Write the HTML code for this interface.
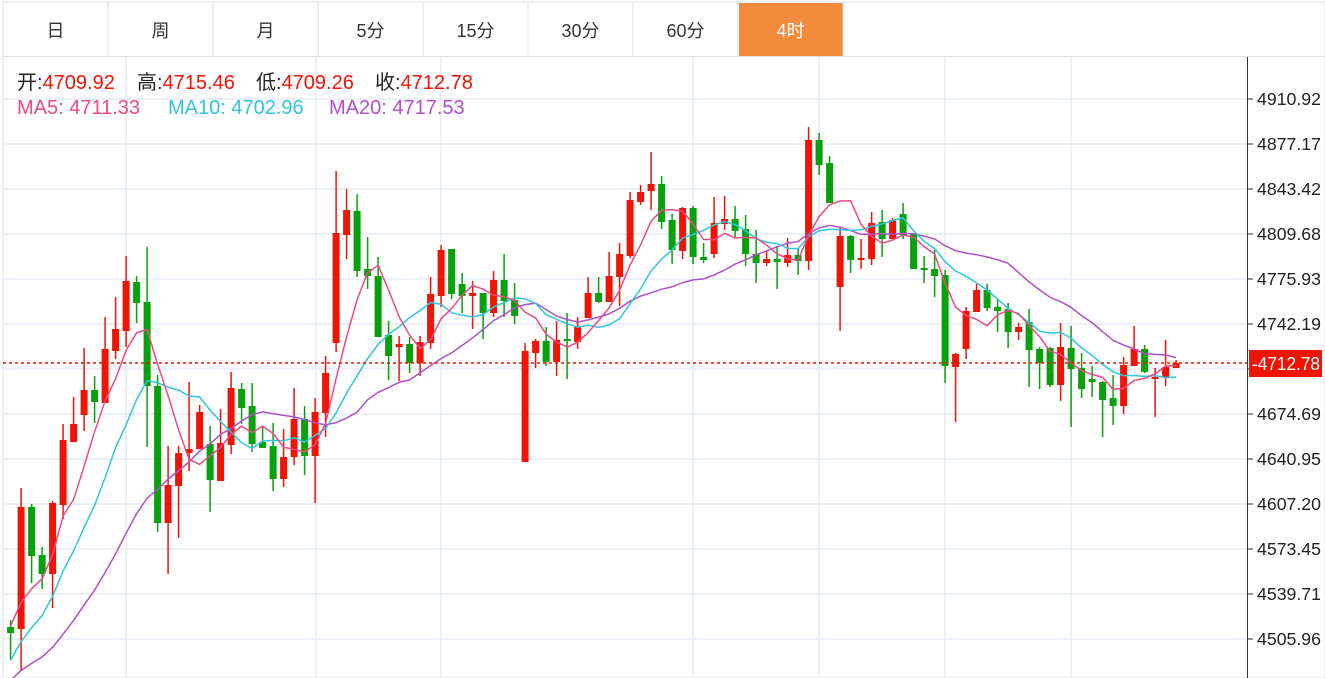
<!DOCTYPE html>
<html><head><meta charset="utf-8"><style>
body{margin:0;width:1325px;height:678px;overflow:hidden;background:#fff;font-family:"Liberation Sans","Noto Sans CJK SC",sans-serif;}
svg{position:absolute;left:0;top:0}
</style></head><body>
<svg id="s" width="1325" height="678" xmlns="http://www.w3.org/2000/svg" font-family="Liberation Sans, Noto Sans CJK SC, sans-serif"></svg>
<script>
var D=[
[627,633,620,660],[507,629,488,670,1],[507,556,504,583],[555,574,547,589],[503,574,501,608,1],[440,505,424,519,1],[424,442,397,442,1],[390,415,348,431,1],[390,402,376,423],[349,403,317,403,1],
[329,351,297,359,1],[281,331,256,347,1],[282,303,276,323],[302,386,247,447],[386,523,375,532],[485,523,446,574,1],[453,486,446,538,1],[449,453,382,471,1],[412,449,405,449,1],[444,480,426,512],
[443,481,409,481,1],[388,445,372,454,1],[389,408,383,424],[406,444,383,452],[442,448,426,448],[446,479,423,491],[457,479,429,487,1],[419,457,388,465,1],[419,456,406,475],[412,456,398,503,1],
[373,413,356,437,1],[233,343,171,352,1],[210,235,189,259,1],[211,271,194,277],[269,276,237,289],[276,337,257,337],[335,356,321,380],[344,347,336,381,1],[344,363,337,373],[342,363,336,376,1],
[294,343,277,349,1],[250,296,245,307,1],[249,294,249,299],[284,296,273,313],[293,296,281,329,1],[293,313,293,339],[280,313,271,317,1],[280,301,254,317],[300,316,283,324],[351,462,343,462,1],
[341,353,339,368,1],[341,362,327,366],[340,362,321,376,1],[339,341,313,379],[327,342,317,349,1],[293,318,277,318,1],[293,302,277,303],[276,302,252,302,1],[254,277,243,306,1],[200,256,192,258,1],
[192,202,185,205,1],[184,191,152,210,1],[184,222,176,229],[220,250,214,264],[208,251,207,259,1],[208,257,206,264],[257,260,243,263],[223,254,197,258,1],[219,224,196,230,1],[219,231,206,237],
[229,254,215,266],[254,263,230,283],[259,263,250,266,1],[259,262,246,289],[255,263,238,267,1],[255,261,248,275],[140,261,127,270,1],[140,165,133,175],[163,203,156,203],[236,287,227,331,1],
[236,260,235,273],[258,260,239,269,1],[223,259,212,265,1],[222,239,210,257],[220,239,218,239,1],[214,235,203,239],[233,269,233,269],[268,270,256,283],[269,276,250,297],[275,366,270,383],
[354,367,353,422,1],[311,349,307,359,1],[290,312,284,312,1],[290,308,284,311],[307,311,299,332],[309,332,303,348],[327,332,323,340,1],[322,350,309,387],[349,363,347,389],[348,385,347,387],
[347,385,323,401,1],[348,369,326,427],[368,389,353,398],[379,382,366,397],[382,400,381,437],[398,406,375,425],[365,406,357,414,1],[349,366,326,366,1],[349,372,345,373],[377,379,368,417,1],
[367,378,340,386,1],[363,368,360,368,1]];
var s=document.getElementById('s'),h='';
function X(i){return 10.6+i*10.5}
h+='<rect x="3" y="2" width="1322" height="676" fill="none" stroke="#dcdfe3"/>';
var tabs=['日','周','月','5分','15分','30分','60分','4时'];
for(var i=0;i<8;i++){var x=3+i*105;
 if(i==7)h+='<rect x="'+(x+1)+'" y="3" width="104" height="53" fill="#f28b3c"/>';
 h+='<line x1="'+(x+105)+'" y1="2" x2="'+(x+105)+'" y2="56" stroke="#dcdfe3"/>';
 h+='<text x="'+(x+52.5)+'" y="37" text-anchor="middle" font-size="18" fill="'+(i==7?'#fff':'#333')+'">'+tabs[i]+'</text>';}
h+='<line x1="3" y1="56.5" x2="1325" y2="56.5" stroke="#dcdfe3"/>';
[126,316,441,693,819,945,1071].forEach(function(x){h+='<line x1="'+x+'" y1="57" x2="'+x+'" y2="678" stroke="#e3ebf2" stroke-width="1.5"/>';});
var labs=['4910.92','4877.17','4843.42','4809.68','4775.93','4742.19','4708.44','4674.69','4640.95','4607.20','4573.45','4539.71','4505.96','4472.22'];
for(var k=0;k<14;k++){var y=99+k*45;
 h+='<line x1="3" y1="'+y+'" x2="1247" y2="'+y+'" stroke="#e3ebf2" stroke-width="1.5"/>';
 h+='<line x1="1247" y1="'+y+'" x2="1253" y2="'+y+'" stroke="#333"/>';
 h+='<text x="1257" y="'+(y+6)+'" font-size="17.5" fill="#222" textLength="64" lengthAdjust="spacingAndGlyphs">'+labs[k]+'</text>';}
h+='<line x1="1247.5" y1="57" x2="1247.5" y2="678" stroke="#333"/>';
var C=[];
D.forEach(function(d,i){var x=X(i),c=d[4]?'#f01405':'#06a10b';
 C.push(d[4]?d[0]:d[1]);
 h+='<line x1="'+x+'" y1="'+d[2]+'" x2="'+x+'" y2="'+d[3]+'" stroke="'+c+'" stroke-width="1.5"/>';
 h+='<rect x="'+(x-3.5)+'" y="'+d[0]+'" width="7" height="'+Math.max(1.5,d[1]-d[0])+'" fill="'+c+'"/>';});
var P=[700,700,700,700,700,700,700,700,700,700,695,695,695,695,695,624,624,624,624];
var A=P.concat(C);
function ma(n,col){var pts=[];for(var i=0;i<C.length;i++){var j=i+19,sum=0;for(var k=0;k<n;k++)sum+=A[j-k];pts.push(X(i).toFixed(1)+','+(sum/n).toFixed(1));}
 h+='<polyline points="'+pts.join(' ')+'" fill="none" stroke="'+col+'" stroke-width="1.5"/>';}
ma(20,'#b04fc8');ma(10,'#2ec7dc');ma(5,'#ec4a86');
h+='<line x1="3" y1="363" x2="1247" y2="363" stroke="#f01405" stroke-dasharray="3,3" stroke-width="1.5"/>';
h+='<rect x="1249" y="350" width="73" height="27" fill="#f01405"/><text x="1252" y="370" font-size="18" fill="#fff" textLength="68" lengthAdjust="spacingAndGlyphs">-4712.78</text>';
function g(x,a,b){return '<text x="'+x+'" y="89" font-size="20"><tspan fill="#222">'+a+'</tspan><tspan fill="#f01405">'+b+'</tspan></text>';}
h+=g(17,'开:','4709.92')+g(137,'高:','4715.46')+g(256,'低:','4709.26')+g(375,'收:','4712.78');
h+='<text x="17" y="114" font-size="20" fill="#ec4a86">MA5: 4711.33</text>';
h+='<text x="168" y="114" font-size="20" fill="#2ec7dc">MA10: 4702.96</text>';
h+='<text x="329" y="114" font-size="20" fill="#b04fc8">MA20: 4717.53</text>';
s.innerHTML=h;
</script>
</body></html>
